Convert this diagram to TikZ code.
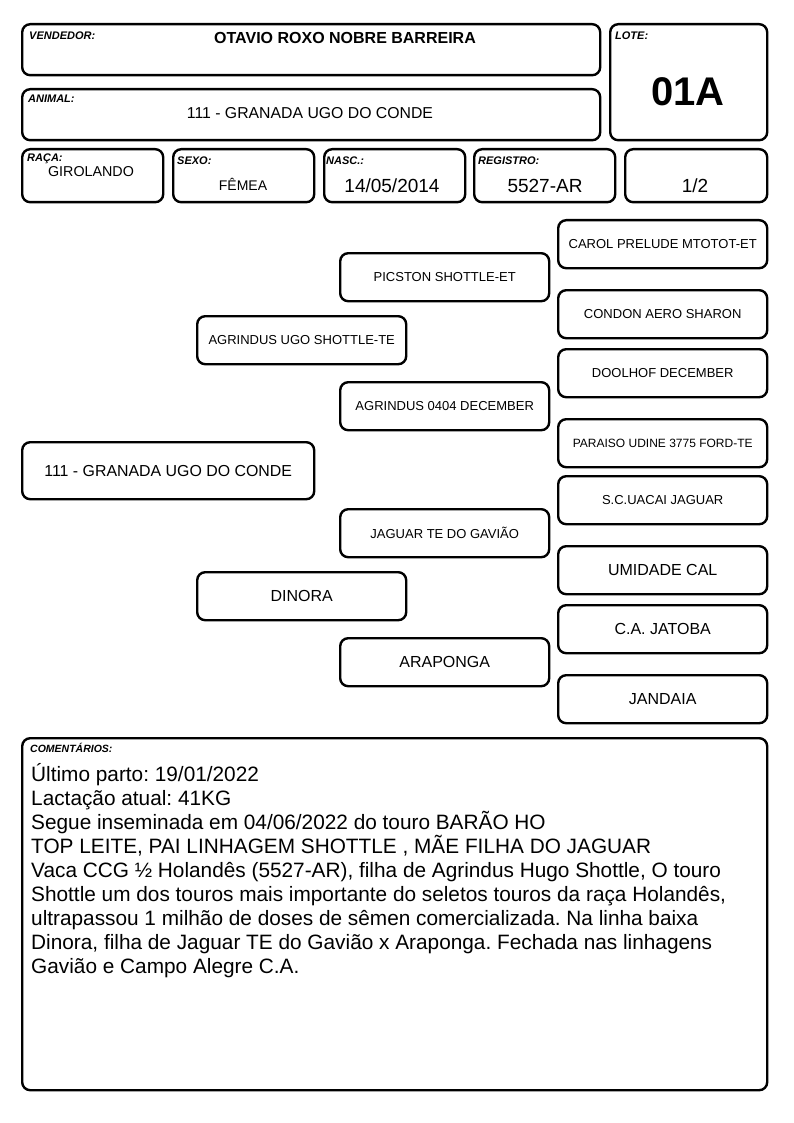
\documentclass[tikz,border=0pt]{standalone}
\usepackage{fontspec}
\setmainfont{Liberation Sans}
\begin{document}
\frenchspacing
\begin{tikzpicture}[x=1pt,y=-1pt,
  box/.style={draw, line width=2.4pt, rounded corners=8pt, inner sep=0pt, anchor=north west, align=center},
  lbl/.style={anchor=base west, inner sep=0pt, font=\fontsize{11}{13}\selectfont\bfseries\itshape},
  val/.style={inner sep=0pt, font=\fontsize{15.8}{18}\selectfont},
  ped/.style={box, minimum width=209, minimum height=48, font=\fontsize{13}{15}\selectfont},
  pedb/.style={ped, font=\fontsize{16}{18}\selectfont}]
\useasboundingbox (0,0) rectangle (794,1123);
% header
\node[box, minimum width=578, minimum height=51] (vend) at (21,23) {};
\node[lbl] (vendl) at (29,40) {VENDEDOR:};
\node[val, font=\fontsize{16}{18}\selectfont\bfseries] (vendv) at (345,38) {OTAVIO ROXO NOBRE BARREIRA};
\node[box, minimum width=578, minimum height=51] (anim) at (21,88) {};
\node[lbl] (animl) at (28,103) {ANIMAL:};
\node[val] (animv) at (310,113) {111 - GRANADA UGO DO CONDE};
\node[box, minimum width=157, minimum height=116] (lote) at (609,23) {};
\node[lbl] (lotel) at (615,40) {LOTE:};
\node[val, font=\fontsize{40}{44}\selectfont\bfseries] (lotev) at (688,92) {01A};
% row 2
\node[box, minimum width=141, minimum height=53] (raca) at (21,148) {};
\node[lbl] (racal) at (27,162) {RAÇA:};
\node[val, font=\fontsize{14.3}{16}\selectfont] (racav) at (91,172) {GIROLANDO};
\node[box, minimum width=141, minimum height=53] (sexo) at (172,148) {};
\node[lbl] (sexol) at (177,165) {SEXO:};
\node[val, font=\fontsize{14}{16}\selectfont] (sexov) at (243,184) {FÊMEA};
\node[box, minimum width=141, minimum height=53] (nasc) at (323,148) {};
\node[lbl] (nascl) at (326,165) {NASC.:};
\node[val, font=\fontsize{19}{22}\selectfont] (nascv) at (392,186) {14/05/2014};
\node[box, minimum width=141, minimum height=53] (reg) at (473,148) {};
\node[lbl] (regl) at (478,165) {REGISTRO:};
\node[val, font=\fontsize{19}{22}\selectfont] (regv) at (545,186) {5527-AR};
\node[box, minimum width=142, minimum height=53] (frac) at (624,148) {};
\node[val, font=\fontsize{19}{22}\selectfont] (fracv) at (695,186) {1/2};
% pedigree
\node[box, minimum width=292, minimum height=57, font=\fontsize{15.9}{18}\selectfont] (p0) at (21,441) {111 - GRANADA UGO DO CONDE};
\node[ped] (p1) at (196,315) {AGRINDUS UGO SHOTTLE-TE};
\node[pedb] (p2) at (196,571) {DINORA};
\node[ped] (p3) at (339,252) {PICSTON SHOTTLE-ET};
\node[ped] (p4) at (339,381) {AGRINDUS 0404 DECEMBER};
\node[ped] (p5) at (339,508) {JAGUAR TE DO GAVIÃO};
\node[pedb] (p6) at (339,637) {ARAPONGA};
\node[ped] (p7) at (557,219) {CAROL PRELUDE MTOTOT-ET};
\node[ped] (p8) at (557,289) {CONDON AERO SHARON};
\node[ped] (p9) at (557,348) {DOOLHOF DECEMBER};
\node[ped, font=\fontsize{12}{14}\selectfont] (p10) at (557,418) {PARAISO UDINE 3775 FORD-TE};
\node[ped] (p11) at (557,475) {S.C.UACAI JAGUAR};
\node[pedb] (p12) at (557,545) {UMIDADE CAL};
\node[pedb] (p13) at (557,604) {C.A. JATOBA};
\node[pedb] (p14) at (557,674) {JANDAIA};
% comments
\node[box, minimum width=745, minimum height=352] (com) at (21,737) {};
\node[lbl, font=\fontsize{10.5}{12}\selectfont\bfseries\itshape] (coml) at (30,752) {COMENTÁRIOS:};
\node[anchor=north west, inner sep=0pt, align=left, font=\fontsize{20.8}{24}\selectfont] (comt) at (31,763) {Último parto: 19/01/2022\\
Lactação atual: 41KG\\
Segue inseminada em 04/06/2022 do touro BARÃO HO\\
TOP LEITE, PAI LINHAGEM SHOTTLE , MÃE FILHA DO JAGUAR\\
Vaca CCG ½ Holandês (5527-AR), filha de Agrindus Hugo Shottle, O touro\\
Shottle um dos touros mais importante do seletos touros da raça Holandês,\\
ultrapassou 1 milhão de doses de sêmen comercializada. Na linha baixa\\
Dinora, filha de Jaguar TE do Gavião x Araponga. Fechada nas linhagens\\
Gavião e Campo Alegre C.A.};
\end{tikzpicture}
\end{document}
